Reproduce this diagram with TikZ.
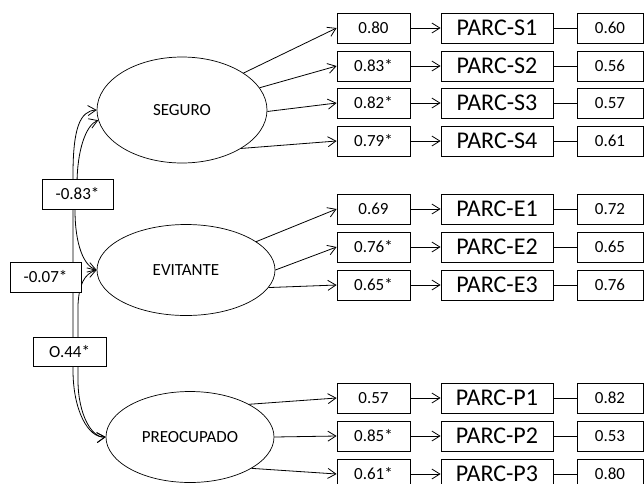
\documentclass[tikz,border=0pt]{standalone}
\usepackage{fontspec}
\setmainfont{Carlito}
\usetikzlibrary{arrows.meta,shapes.geometric}
\begin{document}
\begin{tikzpicture}[x=1pt,y=-1pt,
  every node/.style={inner sep=0pt},
  lat/.style={draw, ellipse, line width=0.7pt, font=\fontsize{17}{17}\selectfont},
  ldbox/.style={draw, line width=0.8pt, minimum width=73pt, minimum height=30pt, font=\fontsize{17}{17}\selectfont},
  indbox/.style={draw, line width=0.8pt, minimum width=112pt, minimum height=30pt, font=\fontsize{24}{24}\selectfont},
  resbox/.style={draw, line width=0.8pt, minimum width=66pt, minimum height=30pt, font=\fontsize{17}{17}\selectfont},
  covlab/.style={draw, fill=white, line width=0.8pt, minimum width=71pt, minimum height=30pt, font=\fontsize{17}{17}\selectfont},
  arr/.style={-{Straight Barb[length=8pt,width=10pt]}, line width=0.8pt},
  cov/.style={{Straight Barb[length=8pt,width=10pt]}-{Straight Barb[length=8pt,width=10pt]}, line width=0.8pt},
  lnk/.style={line width=0.8pt}
]
\useasboundingbox (0,0) rectangle (644,483);
\clip (0,0) rectangle (644,483);

% latent factors
\node[lat, minimum width=170pt, minimum height=106pt] (seg) at (182,110) {SEGURO};
\node[lat, minimum width=178pt, minimum height=91pt] (evi) at (186,270) {EVITANTE};
\node[lat, minimum width=168pt, minimum height=91pt] (pre) at (190,437) {PREOCUPADO};

% indicator rows
\foreach \nm/\yy/\lv/\tv/\rv in {S1/28/0.80/PARC-S1/0.60, S2/66/0.83*/PARC-S2/0.56, S3/103/0.82*/PARC-S3/0.57, S4/141/0.79*/PARC-S4/0.61,
  E1/209/0.69/PARC-E1/0.72, E2/247/0.76*/PARC-E2/0.65, E3/285/0.65*/PARC-E3/0.76,
  P1/398/0.57/PARC-P1/0.82, P2/436/0.85*/PARC-P2/0.53, P3/474/0.61*/PARC-P3/0.80} {
  \node[ldbox] (l\nm) at (373.5,\yy) {\lv};
  \node[indbox] (v\nm) at (497,\yy) {\tv};
  \node[resbox] (r\nm) at (610,\yy) {\rv};
  \draw[arr] (l\nm) -- (v\nm);
  \draw[lnk] (v\nm) -- (r\nm);
}

% loadings
\draw[arr] (seg.31) -- (lS1.west);
\draw[arr] (seg.16) -- (lS2.west);
\draw[arr] (seg.-1) -- (lS3.west);
\draw[arr] (seg.-33) -- (lS4.west);
\draw[arr] (evi.22) -- (lE1.west);
\draw[arr] (evi.0) -- (lE2.west);
\draw[arr] (evi.-12) -- (lE3.west);
\draw[arr] (pre.29) -- (lP1.west);
\draw[arr] (pre.0) -- (lP2.west);
\draw[arr] (pre.-27) -- (lP3.west);

% covariances
\draw[cov] (seg.west) .. controls (80,111) and (73,128) .. (73,175) -- (73,370) .. controls (73,410) and (88,438) .. (pre.west);
\draw[cov] (seg.187) .. controls (86,125) and (77,150) .. (77,185) -- (75,210) .. controls (75,245) and (84,266) .. (evi.west);
\draw[cov] (evi.west) .. controls (84,274) and (79,285) .. (78,305) -- (78,380) .. controls (78,415) and (92,438) .. (pre.west);

% covariance labels
\node[covlab] (c1) at (77.5,194) {-0.83*};
\node[covlab] (c2) at (45.5,277) {-0.07*};
\node[covlab, minimum width=73pt, minimum height=29pt] (c3) at (69.5,352) {O.44*};
\end{tikzpicture}
\end{document}
